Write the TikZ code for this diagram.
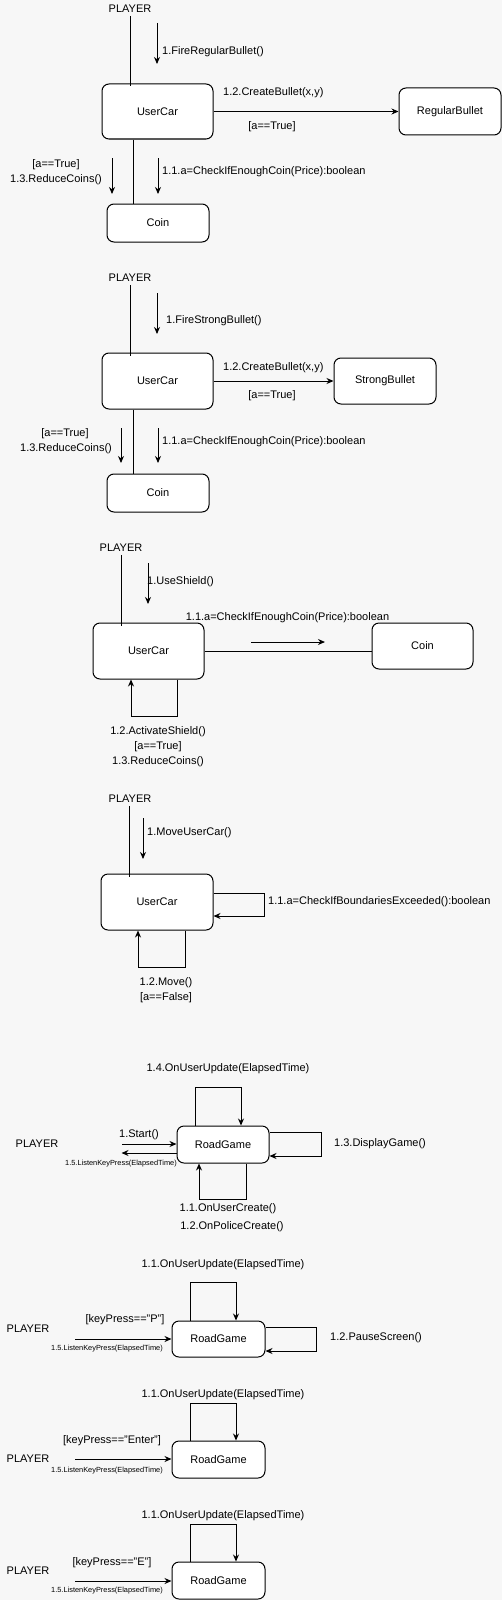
\documentclass[tikz,border=0pt]{standalone}
\usepackage{fontspec}
\setmainfont{Liberation Sans}
\usetikzlibrary{arrows.meta,calc}
\definecolor{bggrey}{HTML}{F7F7F7}
\tikzset{
  obj/.style={draw, fill=white, rounded corners=7pt, line width=1pt, inner sep=0pt, font=\fontsize{11}{13}\selectfont},
  lbl/.style={inner sep=0pt, font=\fontsize{11}{13}\selectfont},
  tinylbl/.style={inner sep=0pt, font=\fontsize{7.4}{9}\selectfont},
  msg/.style={-{Stealth[length=7pt,width=6pt]}, line width=1pt},
  wire/.style={line width=1pt}
}
\begin{document}
\begin{tikzpicture}[x=1pt,y=-1pt]
    \useasboundingbox (0,0) rectangle (502,1600);
    \fill[bggrey] (0,0) rectangle (502,1600);

    % FireRegularBullet
    \begin{scope}
        \node[lbl] (pl1) at (130,9) {PLAYER};
        \node[obj, minimum width=111, minimum height=55] (uc1) at (157.5,111.5) {UserCar};
        \node[obj, minimum width=102, minimum height=47] (rb) at (450,111.5) {RegularBullet};
        \node[obj, minimum width=102, minimum height=38] (coin1) at (158,223) {Coin};
        \draw[wire] ([yshift=-3pt]pl1.south) -- ([yshift=-3pt]pl1.south |- uc1.north);
        \draw[wire] ([xshift=-24.5pt]uc1.south) -- ([xshift=-24.5pt]uc1.south |- coin1.north);
        \draw[msg] (uc1) -- (rb);
        \draw[msg] (157,23) -- (157,64);
        \draw[msg] (112,158) -- (112,194);
        \draw[msg] (158,158) -- (158,194);
        \node[lbl, anchor=west] at (162,52) {1.FireRegularBullet()};
        \node[lbl, anchor=west] at (223,93) {1.2.CreateBullet(x,y)};
        \node[lbl] at (272,127) {[a==True]};
        \node[lbl] at (56,165) {[a==True]};
        \node[lbl] at (56,180) {1.3.ReduceCoins()};
        \node[lbl, anchor=west] at (162,172) {1.1.a=CheckIfEnoughCoin(Price):boolean};
    \end{scope}

    % FireStrongBullet
    \begin{scope}
        \node[lbl] (pl2) at (130,278) {PLAYER};
        \node[obj, minimum width=111, minimum height=56] (uc2) at (157.5,381) {UserCar};
        \node[obj, minimum width=102, minimum height=46] (sb) at (385,381) {StrongBullet};
        \node[obj, minimum width=102, minimum height=38] (coin2) at (158,493) {Coin};
        \draw[wire] ([yshift=-3pt]pl2.south) -- ([yshift=-3pt]pl2.south |- uc2.north);
        \draw[wire] ([xshift=-24.5pt]uc2.south) -- ([xshift=-24.5pt]uc2.south |- coin2.north);
        \draw[msg] (uc2) -- (sb);
        \draw[msg] (157,293) -- (157,334);
        \draw[msg] (121,428) -- (121,463);
        \draw[msg] (158,428) -- (158,463);
        \node[lbl, anchor=west] at (166,321) {1.FireStrongBullet()};
        \node[lbl, anchor=west] at (223,368) {1.2.CreateBullet(x,y)};
        \node[lbl] at (272,396) {[a==True]};
        \node[lbl] at (65,434) {[a==True]};
        \node[lbl] at (66,449) {1.3.ReduceCoins()};
        \node[lbl, anchor=west] at (162,442) {1.1.a=CheckIfEnoughCoin(Price):boolean};
    \end{scope}

    % UseShield
    \begin{scope}
        \node[lbl] (pl3) at (121,548) {PLAYER};
        \node[obj, minimum width=111, minimum height=56] (uc3) at (148.5,651) {UserCar};
        \node[obj, minimum width=101, minimum height=46] (coin3) at (422.5,646) {Coin};
        \draw[wire] ([yshift=-3pt]pl3.south) -- ([yshift=-3pt]pl3.south |- uc3.north);
        \draw[wire] (uc3.east) -- (uc3.east -| coin3.west);
        \draw[msg] (148,563) -- (148,604);
        \draw[msg] (251,642) -- (325,642);
        \draw[msg] ([xshift=28.5pt]uc3.south) -- ++(0,37) -| ([xshift=-17.5pt]uc3.south);
        \node[lbl, anchor=west] at (147,582) {1.UseShield()};
        \node[lbl] at (287.5,618) {1.1.a=CheckIfEnoughCoin(Price):boolean};
        \node[lbl] at (158,732) {1.2.ActivateShield()};
        \node[lbl] at (158,747) {[a==True]};
        \node[lbl] at (158,762) {1.3.ReduceCoins()};
    \end{scope}

    % MoveUserCar
    \begin{scope}
        \node[lbl] (pl4) at (130,799) {PLAYER};
        \node[obj, minimum width=112, minimum height=56] (uc4) at (157,902) {UserCar};
        \draw[wire] ([xshift=-1pt,yshift=-3pt]pl4.south) -- ([xshift=-1pt,yshift=-3pt]pl4.south |- uc4.north);
        \draw[msg] (143,818) -- (143,859);
        \draw[msg] ([yshift=9pt]uc4.east) -- ++(51,0) |- ([yshift=-14pt]uc4.east);
        \draw[msg] ([xshift=28pt]uc4.south) -- ++(0,37) -| ([xshift=-19pt]uc4.south);
        \node[lbl, anchor=west] at (147,833) {1.MoveUserCar()};
        \node[lbl, anchor=west] at (268,902) {1.1.a=CheckIfBoundariesExceeded():boolean};
        \node[lbl] at (166,983) {1.2.Move()};
        \node[lbl] at (166,998) {[a==False]};
    \end{scope}

    % Start
    \begin{scope}
        \node[lbl] (pl5) at (37,1144) {PLAYER};
        \node[obj, minimum width=92, minimum height=37] (rg1) at (223,1144.5) {RoadGame};
        \coordinate (st1) at (122,1144);
        \draw[msg] (st1) -- (st1 -| rg1.west);
        \draw[msg] ([yshift=-8.5pt]rg1.west) -- ++(-55,0);
        \draw[msg] ([xshift=-28pt]rg1.north) -- ++(0,-38) -| ([xshift=18pt]rg1.north);
        \draw[msg] ([yshift=12.5pt]rg1.east) -- ++(52,0) |- ([yshift=-11.5pt]rg1.east);
        \draw[msg] ([xshift=23pt]rg1.south) -- ++(0,36) -| ([xshift=-24pt]rg1.south);
        \node[lbl] at (139,1135) {1.Start()};
        \node[tinylbl, anchor=east] at (177,1164) {1.5.ListenKeyPress(ElapsedTime)};
        \node[lbl] at (228,1069) {1.4.OnUserUpdate(ElapsedTime)};
        \node[lbl, anchor=west] at (334,1144) {1.3.DisplayGame()};
        \node[lbl] at (228,1209) {1.1.OnUserCreate()};
        \node[lbl] at (232,1227) {1.2.OnPoliceCreate()};
    \end{scope}

    % Pause
    \begin{scope}
        \node[lbl] (pl6) at (28,1329) {PLAYER};
        \node[obj, minimum width=93, minimum height=36] (rg2) at (218.5,1339) {RoadGame};
        \coordinate (st2) at (75,1339);
        \draw[msg] (st2) -- (st2 -| rg2.west);
        \draw[msg] ([xshift=-28.5pt]rg2.north) -- ++(0,-38) -| ([xshift=17.5pt]rg2.north);
        \draw[msg] ([yshift=12pt]rg2.east) -- ++(51,0) |- ([yshift=-12pt]rg2.east);
        \node[lbl] at (125,1320) {[keyPress=="P"]};
        \node[tinylbl] at (107,1349) {1.5.ListenKeyPress(ElapsedTime)};
        \node[lbl] at (223,1265) {1.1.OnUserUpdate(ElapsedTime)};
        \node[lbl, anchor=west] at (330,1338) {1.2.PauseScreen()};
    \end{scope}

    % Enter
    \begin{scope}
        \node[lbl] (pl7) at (28,1459) {PLAYER};
        \node[obj, minimum width=93, minimum height=37] (rg3) at (218.5,1459.5) {RoadGame};
        \coordinate (st3) at (75,1459);
        \draw[msg] (st3) -- (st3 -| rg3.west);
        \draw[msg] ([xshift=-28.5pt]rg3.north) -- ++(0,-37) -| ([xshift=17.5pt]rg3.north);
        \node[lbl] at (112,1441) {[keyPress=="Enter"]};
        \node[tinylbl] at (107,1471) {1.5.ListenKeyPress(ElapsedTime)};
        \node[lbl] at (223,1395) {1.1.OnUserUpdate(ElapsedTime)};
    \end{scope}

    % Exit
    \begin{scope}
        \node[lbl] (pl8) at (28,1571) {PLAYER};
        \node[obj, minimum width=93, minimum height=37] (rg4) at (218.5,1580.5) {RoadGame};
        \coordinate (st4) at (75,1581);
        \draw[msg] (st4) -- (st4 -| rg4.west);
        \draw[msg] ([xshift=-28.5pt]rg4.north) -- ++(0,-37) -| ([xshift=17.5pt]rg4.north);
        \node[lbl] at (112,1563) {[keyPress=="E"]};
        \node[tinylbl] at (107,1591) {1.5.ListenKeyPress(ElapsedTime)};
        \node[lbl] at (223,1516) {1.1.OnUserUpdate(ElapsedTime)};
    \end{scope}
\end{tikzpicture}
\end{document}
